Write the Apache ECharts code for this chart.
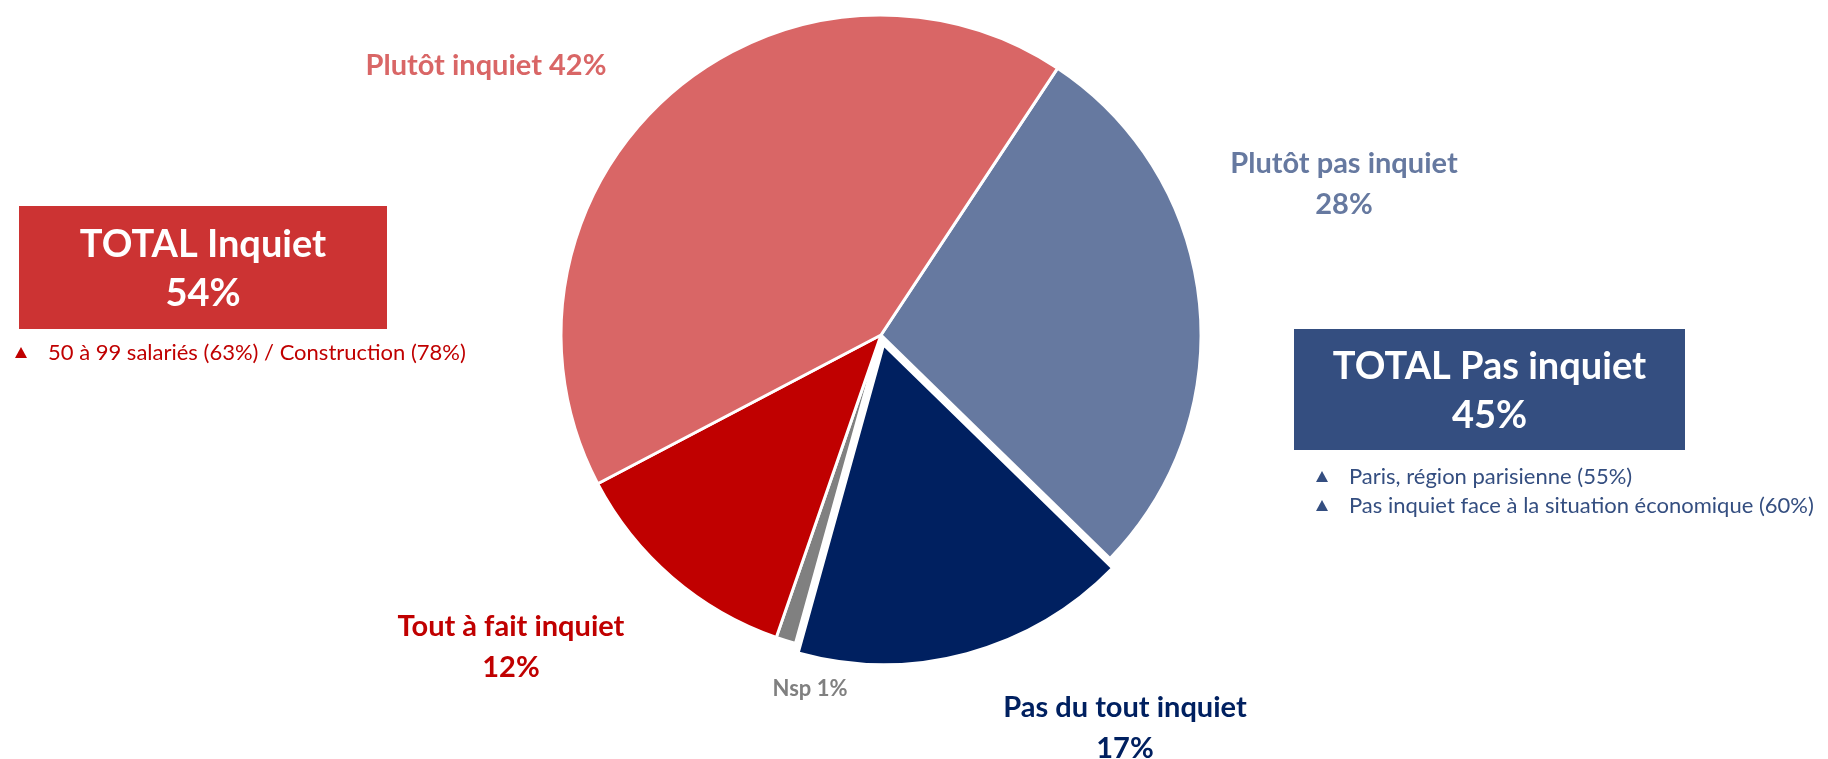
<!DOCTYPE html>
<html><head><meta charset="utf-8">
<script src="https://cdn.jsdelivr.net/npm/echarts@6/dist/echarts.min.js"></script>
<style>html,body{margin:0;padding:0;background:#fff}#c{width:1828px;height:759px}</style>
</head><body><div id="c"></div>
<script>
// Data
var categories = ['Plutôt pas inquiet', 'Pas du tout inquiet', 'Nsp', 'Tout à fait inquiet', 'Plutôt inquiet'];
var values = [28, 17, 1, 12, 42];
var exploded = [false, true, false, false, false];
var totalLabels = ['TOTAL Inquiet', 'TOTAL Pas inquiet'];
var totalValues = [54, 45];
var notesInquiet = ['50 à 99 salariés (63%) / Construction (78%)'];
var notesPasInquiet = ['Paris, région parisienne (55%)', 'Pas inquiet face à la situation économique (60%)'];

// Styles / layout
var colors = ['#6679A0', '#002060', '#808080', '#C00000', '#D96666'];
var labelPos = [[1344, 164], [1125, 708], [810, 689], [511, 627], [486, 66]];
var oneLine = [false, false, true, false, true];
var labelSize = [29, 29, 22, 29, 29];
var FONT = 'Lato, "Open Sans", sans-serif';

var chart = echarts.init(document.getElementById('c'), null, {renderer: 'canvas'});
var data = categories.map(function (n, i) {
  return {name: n, value: values[i], selected: exploded[i], itemStyle: {color: colors[i]}};
});

function box(x, y, w, h, color, title, val) {
  return {
    type: 'group', children: [
      {type: 'rect', shape: {x: x, y: y, width: w, height: h}, style: {fill: color}},
      {type: 'text', x: x + w / 2, y: y + h / 2 - 23, style: {text: title, fill: '#fff', font: 'bold 38px ' + FONT, textAlign: 'center', textVerticalAlign: 'middle'}},
      {type: 'text', x: x + w / 2, y: y + h / 2 + 26, style: {text: val + '%', fill: '#fff', font: 'bold 38px ' + FONT, textAlign: 'center', textVerticalAlign: 'middle'}}
    ]
  };
}
function bullets(x, y, lines, color, gap) {
  var ch = [];
  lines.forEach(function (t, i) {
    var yy = y + i * gap;
    ch.push({type: 'polygon', shape: {points: [[x - 6, yy + 5], [x + 6, yy + 5], [x, yy - 6]]}, style: {fill: color}});
    ch.push({type: 'text', x: x + 27, y: yy, style: {text: t, fill: color, font: '22px ' + FONT, textVerticalAlign: 'middle'}});
  });
  return {type: 'group', children: ch};
}
function sliceLabels() {
  var out = [];
  categories.forEach(function (n, i) {
    var p = labelPos[i];
    var f = 'bold ' + labelSize[i] + 'px ' + FONT;
    if (oneLine[i]) {
      out.push({type: 'text', x: p[0], y: p[1], style: {text: n + ' ' + values[i] + '%', fill: colors[i], font: f, textAlign: 'center', textVerticalAlign: 'middle'}});
    } else {
      out.push({type: 'text', x: p[0], y: p[1], style: {text: n, fill: colors[i], font: f, textAlign: 'center', textVerticalAlign: 'middle'}});
      out.push({type: 'text', x: p[0], y: p[1] + 41, style: {text: values[i] + '%', fill: colors[i], font: f, textAlign: 'center', textVerticalAlign: 'middle'}});
    }
  });
  return out;
}

chart.setOption({
  animation: false,
  series: [{
    type: 'pie',
    center: [881, 335],
    radius: 320,
    startAngle: 56.5,
    clockwise: true,
    selectedMode: 'multiple',
    selectedOffset: 10,
    itemStyle: {borderColor: '#fff', borderWidth: 3},
    emphasis: {disabled: true},
    labelLine: {show: false},
    label: {show: false},
    data: data
  }],
  graphic: [
    box(19, 206, 368, 123, '#CC3333', totalLabels[0], totalValues[0]),
    box(1294, 329, 391, 121, '#344E80', totalLabels[1], totalValues[1]),
    bullets(21, 353, notesInquiet, '#C00000', 29),
    bullets(1322, 477, notesPasInquiet, '#344E80', 29)
  ].concat(sliceLabels())
});
</script></body></html>
